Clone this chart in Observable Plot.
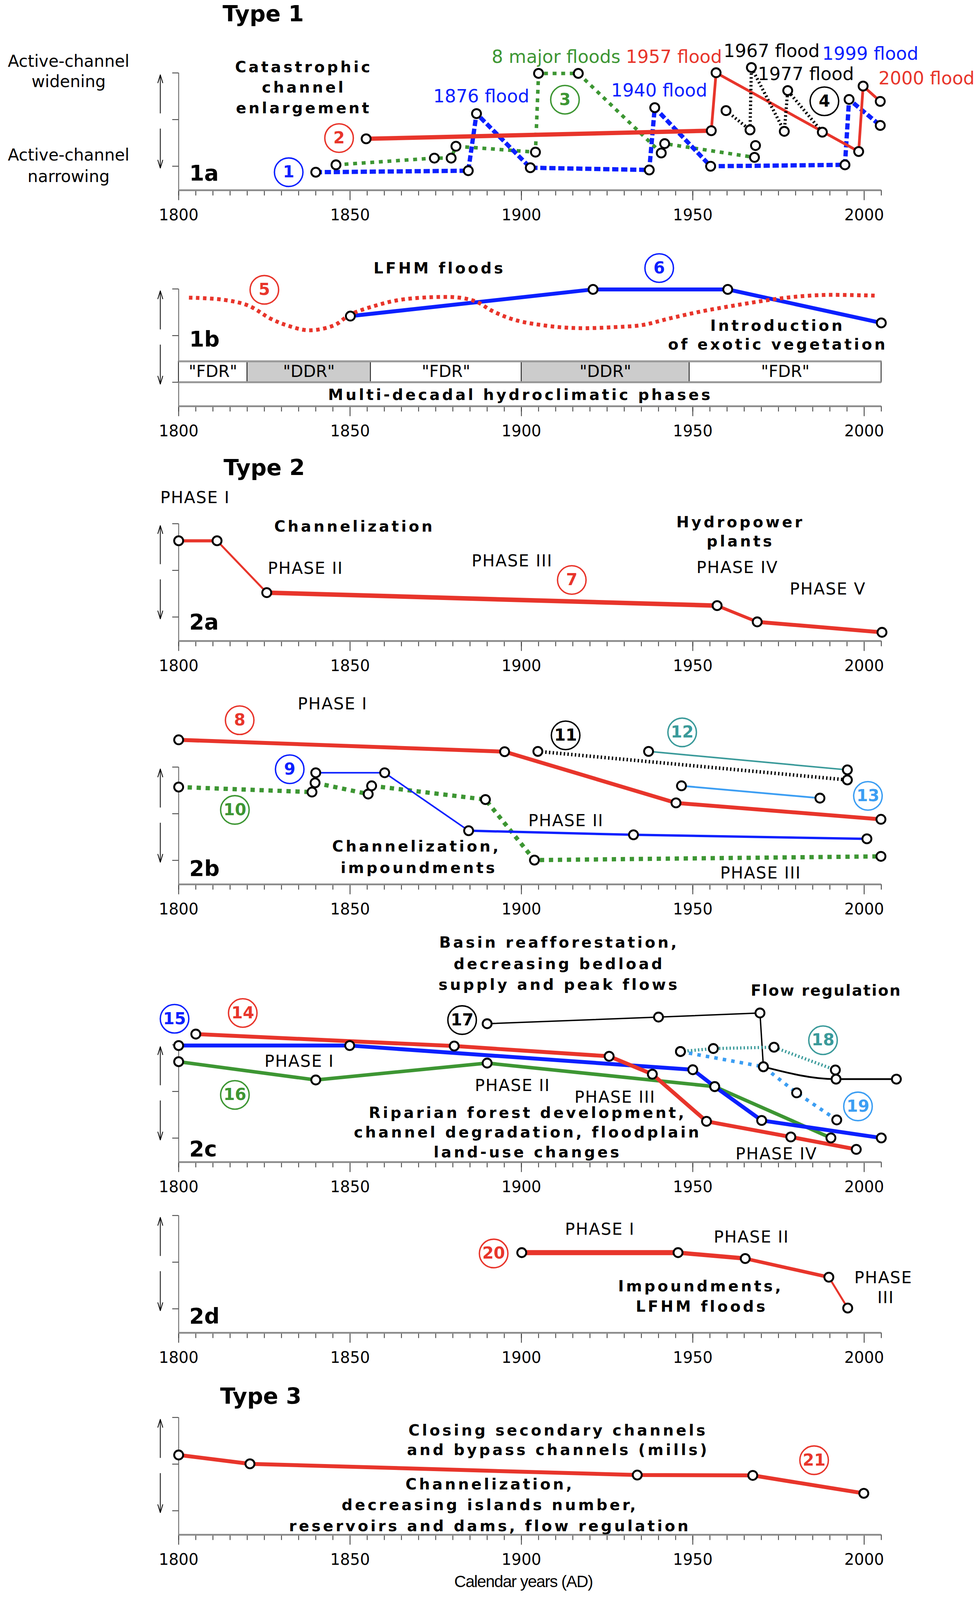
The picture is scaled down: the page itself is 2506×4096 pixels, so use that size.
<!DOCTYPE html>
<html><head><meta charset="utf-8">
<script src="https://cdn.jsdelivr.net/npm/d3@7"></script>
<script src="https://cdn.jsdelivr.net/npm/@observablehq/plot@0.6"></script>
<style>
html,body{margin:0;padding:0;background:#fff;}
#chart{position:relative;width:2506px;height:4096px;overflow:hidden;background:#fff;}
#chart svg{position:absolute;left:0;}
</style></head><body><div id="chart"></div>
<script>
// ---------- colours ----------
const RED = "#e8352b", BLUE = "#0b20ff", GREEN = "#3d9633", TEAL = "#3a9a9a", LBLUE = "#3c9ef3", BLACK = "#000000", BARGRAY = "#cccccc";

// ---------- axis ticks ----------
const minorYears = d3.range(1800, 2006, 5);
const majorYears = [1800, 1850, 1900, 1950, 2000];
const levelTicks = [0, 50, 100];
const arrowSpans = [{from: 57, to: 98}, {from: 40, to: -2}];

// ---------- series (year, relative active-channel width level; 0 = lower tick, 100 = upper tick) ----------
// Panel 1a
const s1_blue   = [[1840,-6.4],[1884.5,-4.8],[1886.9,56.4],[1902.6,-1.6],[1937.3,-4.0],[1938.9,62.8],[1955.2,0],[1994.4,1.5],[1995.6,71.6],[2004.7,43.7]];
const s2_red    = [[1854.7,29.4],[1955.4,38.1],[1956.8,100.2],[1998.4,15.8],[1999.7,85.9],[2004.7,69.5]];
const s3_green  = [[1845.9,1.5],[1874.6,8.7],[1879.5,8.7],[1880.9,21.4],[1904.1,15.1],[1905,99.5],[1916.6,99.5],[1940.8,14.2],[1941.8,24.2],[1968,9.5],[1968.3,22.2]];
const s4_black  = [[1959.7,59.6],[1966.7,38.9],[1967.1,105.8],[1976.7,37.4],[1977.7,81.1],[1987.8,36.5]];
// Panel 1b
const s5_red    = [[1803,90.7],[1812.9,88.5],[1820.3,82.2],[1826.8,68.2],[1831.5,61.1],[1838,55.7],[1845.4,61.1],[1850,72.4],[1857.5,82.2],[1864.9,88.5],[1876,91.4],[1882.5,90.4],[1887.2,85.8],[1891.4,76.6],[1898.1,66.8],[1907.7,60.4],[1916.3,58.0],[1926.8,59.0],[1935.4,61.4],[1943,68.2],[1952.6,76.0],[1962.1,82.2],[1971.7,87.9],[1979.3,91.4],[1988.9,93.6],[2003.2,92.8]];
const s6_blue   = [[1850.1,70.9],[1920.9,99.5],[1960.2,99.5],[2005,63.6]];
const hydroPhases = [
  {start:1800, end:1820, phase:"FDR"}, {start:1820, end:1856, phase:"DDR"}, {start:1856, end:1900, phase:"FDR"},
  {start:1900, end:1949, phase:"DDR"}, {start:1949, end:2005, phase:"FDR"}];
const phaseBarTop = 22.4;
// Panel 2a
const s7_red    = [[1800,81.7],[1811.2,81.7],[1825.7,26.1],[1957.1,12.2],[1968.8,-5.2],[2005.2,-16.4]];
// Panel 2b
const s8_red    = [[1800,129.2],[1895.1,116.5],[1945.1,61.6],[2004.9,44.0]];
const s9_blue   = [[1840,93.9],[1860.1,93.9],[1884.6,31.8],[1932.7,27.4],[2000.8,23.1]];
const s10_green = [[1800,78.6],[1838.9,73.2],[1839.8,83.1],[1855.3,71.1],[1856.3,79.9],[1889.5,65.2],[1903.8,0.3],[2004.9,4.3]];
const s11_black = [[1904.8,116.8],[1995.1,86.2]];
const s12_teal  = [[1937.1,116.8],[1995.1,97.0]];
const s13_lblue = [[1946.7,79.9],[1987.1,66.7]];
// Panel 2c
const s14_red   = [[1805,111.5],[1880.4,98.7],[1925.6,87.7],[1938.2,68.5],[1954,18.0],[1978.6,1.2],[1997.7,-12.1]];
const s15_blue  = [[1800,99.2],[1849.9,99.2],[1950,73.3],[1956.4,55.2],[1970.1,18.9],[2005,0.2]];
const s16_green = [[1800,81.9],[1840,62.3],[1890,80.4],[1956.4,55.2],[1990.3,0.2]];
const s17_black = [[1890,122.6],[1940,129.7],[1969.6,134.1],[1970.6,76.5],[1991.8,63.2],[2009.4,63.2]];
const s18_teal  = [[1946.4,92.8],[1956,96.0],[1973.7,97.4],[1991.6,73.0]];
const s19_lblue = [[1946.4,92.8],[1970.6,76.5],[1980.3,48.5],[1992,19.5]];
// Panel 2d
const s20_red   = [[1900.1,60.2],[1945.7,60.2],[1965.3,53.9],[1989.7,33.9],[1995.2,0.8]];
// Panel 3
const s21_red   = [[1800,59.8],[1820.8,50.3],[1933.8,38.3],[1967.5,37.9],[1999.9,18.7]];

const tagColor = {1:BLUE,2:RED,3:GREEN,4:BLACK,5:RED,6:BLUE,7:RED,8:RED,9:BLUE,10:GREEN,11:BLACK,12:TEAL,13:LBLUE,14:RED,15:BLUE,16:GREEN,17:BLACK,18:TEAL,19:LBLUE,20:RED,21:RED};

// ---------- annotations (anchored in year / level coordinates) ----------
const titles = {
  t1: [{text:"Type 1", year:1812.8, level:162.8}],
  t2: [{text:"Type 2", year:1813.1, level:159.5}],
  t3: [{text:"Type 3", year:1812.1, level:122.1}]
};
const sideLabels = [
  {text:"Active-channel", year:1767.9, level:112.1}, {text:"widening", year:1767.9, level:90.6},
  {text:"Active-channel", year:1767.9, level:11.9}, {text:"narrowing", year:1767.9, level:-11.1}];
const floodLabels = [
  {text:"8 major floods", year:1910.1, level:116.9, n:3}, {text:"1957 flood", year:1944.5, level:116.9, n:2},
  {text:"1967 flood", year:1973.0, level:123.3, n:4}, {text:"1999 flood", year:2001.8, level:120.1, n:1},
  {text:"1876 flood", year:1888.3, level:74.8, n:1}, {text:"1940 flood", year:1940.2, level:81.1, n:1},
  {text:"1977 flood", year:1983.0, level:98.6, n:4}, {text:"2000 flood", year:2018.2, level:93.8, n:2}];
const bold1a = [{text:"Catastrophic", year:1836.5, level:106.0},{text:"channel", year:1836.5, level:84.3},{text:"enlargement", year:1836.5, level:62.0}];
const tags1a = [{n:1,year:1832.1,level:-6.4},{n:2,year:1846.8,level:30.2},{n:3,year:1912.7,level:71.3},{n:4,year:1988.4,level:69.6}];

const bold1b = [{text:"LFHM floods", year:1876.1, level:121.9},{text:"Introduction", year:1974.7, level:60.4},
  {text:"of exotic vegetation", year:1974.8, level:40.1},{text:"Multi-decadal hydroclimatic phases", year:1899.7, level:-13.6}];
const tags1b = [{n:5,year:1825.0,level:99.1},{n:6,year:1940.2,level:122.4}];

const bold2a = [{text:"Channelization", year:1851.3, level:96.6},{text:"Hydropower", year:1963.9, level:101.3},{text:"plants", year:1963.9, level:80.7}];
const phase2a = [{text:"PHASE I", year:1804.8, level:127.6},{text:"PHASE II", year:1837.0, level:52.0},{text:"PHASE III", year:1897.3, level:60.0},
  {text:"PHASE IV", year:1963.0, level:52.8},{text:"PHASE V", year:1989.4, level:29.7}];
const tags2a = [{n:7,year:1914.7,level:39.7}];

const bold2b = [{text:"Channelization,", year:1869.4, level:14.6},{text:"impoundments", year:1870.1, level:-8.4}];
const phase2b = [{text:"PHASE I", year:1844.9, level:167.4},{text:"PHASE II", year:1913.0, level:42.5},{text:"PHASE III", year:1969.8, level:-14.0}];
const tags2b = [{n:8,year:1817.8,level:150.2},{n:9,year:1832.4,level:97.7},{n:10,year:1816.4,level:54.1},
  {n:11,year:1912.9,level:134.0},{n:12,year:1946.9,level:137.2},{n:13,year:2001.1,level:69.1}];

const bold2c = [{text:"Basin reafforestation,", year:1911.0, level:209.5},{text:"decreasing bedload", year:1911.0, level:186.4},
  {text:"supply and peak flows", year:1911.0, level:164.3},
  {text:"Riparian forest development,", year:1901.8, level:26.9},{text:"channel degradation, floodplain", year:1901.8, level:5.9},
  {text:"land-use changes", year:1901.8, level:-15.3}];
const flowReg2c = [{text:"Flow regulation", year:1988.9, level:158.0}];
const phase2c = [{text:"PHASE I", year:1835.2, level:82.2},{text:"PHASE II", year:1897.4, level:56.1},{text:"PHASE III", year:1927.3, level:43.7},{text:"PHASE IV", year:1974.4, level:-17.0}];
const tags2c = [{n:14,year:1818.7,level:134.1},{n:15,year:1798.8,level:127.9},{n:16,year:1816.4,level:46.3},
  {n:17,year:1882.7,level:126.5},{n:18,year:1988.0,level:104.9},{n:19,year:1998.2,level:34.0}];

const bold2d = [{text:"Impoundments,", year:1952.3, level:23.7},{text:"LFHM floods", year:1952.6, level:2.1}];
const phase2d = [{text:"PHASE I", year:1922.9, level:84.8},{text:"PHASE II", year:1967.1, level:76.5},{text:"PHASE", year:2005.6, level:33.2},{text:"III", year:2006.3, level:11.6}];
const tags2d = [{n:20,year:1891.9,level:59.3}];

const bold3 = [{text:"Closing secondary channels", year:1910.7, level:86.0},{text:"and bypass channels (mills)", year:1910.7, level:65.0},
  {text:"Channelization,", year:1890.8, level:28.2},{text:"decreasing islands number,", year:1890.8, level:5.7},
  {text:"reservoirs and dams, flow regulation", year:1890.8, level:-16.9}];
const tags3 = [{n:21,year:1985.4,level:54.2}];
const xLabel = [{text:"Calendar years (AD)", year:1900.6, level:-76.2}];

const panelLabels = {
  "1a": [{text:"1a", year:1803.1, level:-8.0}], "1b": [{text:"1b", year:1803.1, level:45.6}],
  "2a": [{text:"2a", year:1803.1, level:-6.0}], "2b": [{text:"2b", year:1803.1, level:-9.2}],
  "2c": [{text:"2c", year:1803.1, level:-12.1}], "2d": [{text:"2d", year:1803.1, level:-8.1}]
};

// ---------- layout ----------
const k = 2506 / 960;             // reference-preview px -> output px
const SPAN = 91.5;                // preview px between lower and upper level ticks
const AXIS_GAP = 23.5;            // preview px between lower tick and time axis
const AXIS_LEVEL = -AXIS_GAP / SPAN * 100;
const ARROW_YEAR = 1800 + (157 - 175) / 3.36;
const chart = document.getElementById("chart");

const P = a => a.map(([year, level]) => ({year, level}));

function axes() {
  return [
    Plot.ruleX([1800], {y1: AXIS_LEVEL, y2: 100, stroke: "#666", strokeWidth: 2.2}),
    Plot.axisY(levelTicks, {anchor: "left", tickSize: 16, tickFormat: () => "", stroke: "#444", strokeWidth: 2.2, label: null}),
    Plot.axisX(minorYears, {anchor: "bottom", tickSize: 14, tickFormat: () => "", stroke: "#333", strokeWidth: 2, label: null}),
    Plot.axisX(majorYears, {anchor: "bottom", tickSize: 26, tickPadding: 23, tickFormat: d => String(d), fontSize: 40, stroke: "#333", strokeWidth: 2, label: null}),
    Plot.ruleY([AXIS_LEVEL], {x1: 1800, x2: 2005, stroke: "#8a8a8a", strokeWidth: 4.5}),
    Plot.arrow(arrowSpans, {x1: ARROW_YEAR, x2: ARROW_YEAR, y1: "from", y2: "to", stroke: "#000", strokeWidth: 2, headLength: 16, headAngle: 34})
  ];
}
const line = (data, o) => Plot.line(P(data), {x: "year", y: "level", strokeLinecap: "butt", strokeLinejoin: "round", ...o});
const markers = data => Plot.dot(P(data), {x: "year", y: "level", r: 11.5, fill: "white", stroke: "#000", strokeWidth: 4.8});
const tagMarks = tags => [
  Plot.dot(tags, {x: "year", y: "level", r: 36.5, fill: "white", stroke: d => tagColor[d.n], strokeWidth: 3.6}),
  Plot.text(tags, {x: "year", y: "level", text: d => String(d.n), fill: d => tagColor[d.n], fontWeight: "bold", fontSize: 42})
];
const boldText = (data, o = {}) => Plot.text(data, {x: "year", y: "level", text: "text", fontWeight: "bold", fontSize: 39, ariaDescription: "ls-bold", ...o});
const phaseText = (data, o = {}) => Plot.text(data, {x: "year", y: "level", text: "text", fontSize: 42, ariaDescription: "ls-phase", ...o});
const panelLabel = data => Plot.text(data, {x: "year", y: "level", text: "text", fontWeight: "bold", fontSize: 55, textAnchor: "start"});
const titleText = data => Plot.text(data, {x: "year", y: "level", text: "text", fontWeight: "bold", fontSize: 57, textAnchor: "start"});

function panel(T, marks) {
  const height = (SPAN + 20 + 50) * k;
  const marginTop = 20 * k;
  const axisPos = (20 + SPAN + AXIS_GAP) * k;
  const svg = Plot.plot({
    width: 2506, height,
    marginLeft: 175 * k, marginRight: 2506 - 864 * k,
    marginTop, marginBottom: height - axisPos,
    x: {domain: [1800, 2005], label: null},
    y: {domain: [0, 100], range: [(20 + SPAN) * k, marginTop], label: null},
    color: {type: "identity"},
    style: "background:none;overflow:visible;font-family:'DejaVu Sans',sans-serif;font-size:40px;color:#000;",
    marks: [...axes(), ...marks]
  });
  svg.style.position = "absolute";
  svg.style.left = "0px";
  svg.style.top = ((T - 20) * k) + "px";
  const spacing = {"ls-bold": 6, "ls-phase": 2, "ls-narrow": -1.5, "ls-flow": 2.8};
  for (const [key, v] of Object.entries(spacing))
    svg.querySelectorAll(`[aria-description="${key}"]`).forEach(g => g.setAttribute("letter-spacing", v));
  chart.appendChild(svg);
}

// ---------- Panel 1a ----------
panel(71.5, [
  line(s3_green, {stroke: GREEN, strokeWidth: 9, strokeDasharray: "10,12"}),
  line(s1_blue, {stroke: BLUE, strokeWidth: 11, strokeDasharray: "16,7"}),
  line(s2_red.slice(0, 2), {stroke: RED, strokeWidth: 11}),
  line(s2_red.slice(1), {stroke: RED, strokeWidth: 7}),
  line(s4_black, {stroke: BLACK, strokeWidth: 8, strokeDasharray: "4,6"}),
  markers(s1_blue), markers(s2_red), markers(s3_green), markers(s4_black),
  ...tagMarks(tags1a),
  boldText(bold1a),
  Plot.text(floodLabels, {x: "year", y: "level", text: "text", fill: d => tagColor[d.n], fontSize: 46}),
  Plot.text(sideLabels, {x: "year", y: "level", text: "text", fontSize: 42}),
  panelLabel(panelLabels["1a"]),
  titleText(titles.t1)
]);

// ---------- Panel 1b ----------
panel(283, [
  Plot.rect(hydroPhases, {x1: "start", x2: "end", y1: 0, y2: phaseBarTop, fill: d => d.phase === "DDR" ? BARGRAY : "white", stroke: "#222", strokeWidth: 2.2}),
  Plot.ruleY([0, phaseBarTop], {x1: 1800, x2: 2005, stroke: "#999", strokeWidth: 5}),
  Plot.text(hydroPhases, {x: d => (d.start + d.end) / 2, y: phaseBarTop / 2, text: d => `"${d.phase}"`, fontSize: 42}),
  line(s6_blue, {stroke: BLUE, strokeWidth: 10}),
  line(s5_red, {stroke: RED, strokeWidth: 10, strokeDasharray: "9,9", curve: "catmull-rom"}),
  markers(s6_blue),
  ...tagMarks(tags1b),
  boldText(bold1b),
  panelLabel(panelLabels["1b"])
]);

// ---------- Panel 2a ----------
panel(513.5, [
  line(s7_red.slice(0, 2), {stroke: RED, strokeWidth: 8}),
  line(s7_red.slice(1, 3), {stroke: RED, strokeWidth: 5}),
  line(s7_red.slice(2, 4), {stroke: RED, strokeWidth: 11.5}),
  line(s7_red.slice(3, 5), {stroke: RED, strokeWidth: 8}),
  line(s7_red.slice(4), {stroke: RED, strokeWidth: 10}),
  markers(s7_red),
  ...tagMarks(tags2a),
  boldText(bold2a),
  phaseText(phase2a),
  panelLabel(panelLabels["2a"]),
  titleText(titles.t2)
]);

// ---------- Panel 2b ----------
panel(752, [
  line(s10_green, {stroke: GREEN, strokeWidth: 11, strokeDasharray: "11,12"}),
  line(s9_blue.slice(0, 3), {stroke: BLUE, strokeWidth: 4}),
  line(s9_blue.slice(2), {stroke: BLUE, strokeWidth: 6}),
  line(s8_red, {stroke: RED, strokeWidth: 10}),
  line(s11_black, {stroke: BLACK, strokeWidth: 9, strokeDasharray: "3.5,6"}),
  line(s12_teal, {stroke: TEAL, strokeWidth: 4}),
  line(s13_lblue, {stroke: LBLUE, strokeWidth: 4.5}),
  markers(s8_red), markers(s9_blue), markers(s10_green), markers(s11_black), markers(s12_teal), markers(s13_lblue),
  ...tagMarks(tags2b),
  boldText(bold2b),
  phaseText(phase2b),
  panelLabel(panelLabels["2b"])
]);

// ---------- Panel 2c ----------
panel(1024.5, [
  line(s16_green, {stroke: GREEN, strokeWidth: 9}),
  line(s15_blue, {stroke: BLUE, strokeWidth: 10}),
  line(s14_red, {stroke: RED, strokeWidth: 10}),
  line(s17_black.slice(0, 4), {stroke: BLACK, strokeWidth: 3.5}),
  line(s17_black.slice(3), {stroke: BLACK, strokeWidth: 4.5, curve: "monotone-x"}),
  line(s18_teal, {stroke: TEAL, strokeWidth: 8, strokeDasharray: "3.5,5.5"}),
  line(s19_lblue, {stroke: LBLUE, strokeWidth: 9, strokeDasharray: "9,13"}),
  markers(s14_red), markers(s15_blue), markers(s16_green), markers(s17_black), markers(s18_teal), markers(s19_lblue),
  ...tagMarks(tags2c),
  boldText(bold2c),
  Plot.text(flowReg2c, {x: "year", y: "level", text: "text", fontWeight: "bold", fontSize: 39, ariaDescription: "ls-flow"}),
  phaseText(phase2c),
  panelLabel(panelLabels["2c"])
]);

// ---------- Panel 2d ----------
panel(1192, [
  line(s20_red.slice(0, 2), {stroke: RED, strokeWidth: 13}),
  line(s20_red.slice(1, 3), {stroke: RED, strokeWidth: 11}),
  line(s20_red.slice(2, 4), {stroke: RED, strokeWidth: 9}),
  line(s20_red.slice(3), {stroke: RED, strokeWidth: 5}),
  markers(s20_red),
  ...tagMarks(tags2d),
  boldText(bold2d),
  phaseText(phase2d),
  panelLabel(panelLabels["2d"])
]);

// ---------- Panel 3 ----------
panel(1390, [
  line(s21_red, {stroke: RED, strokeWidth: 10}),
  markers(s21_red),
  ...tagMarks(tags3),
  boldText(bold3),
  Plot.text(xLabel, {x: "year", y: "level", text: "text", fontSize: 42, fontFamily: "'Liberation Sans', sans-serif", ariaDescription: "ls-narrow"}),
  titleText(titles.t3)
]);
</script></body></html>
